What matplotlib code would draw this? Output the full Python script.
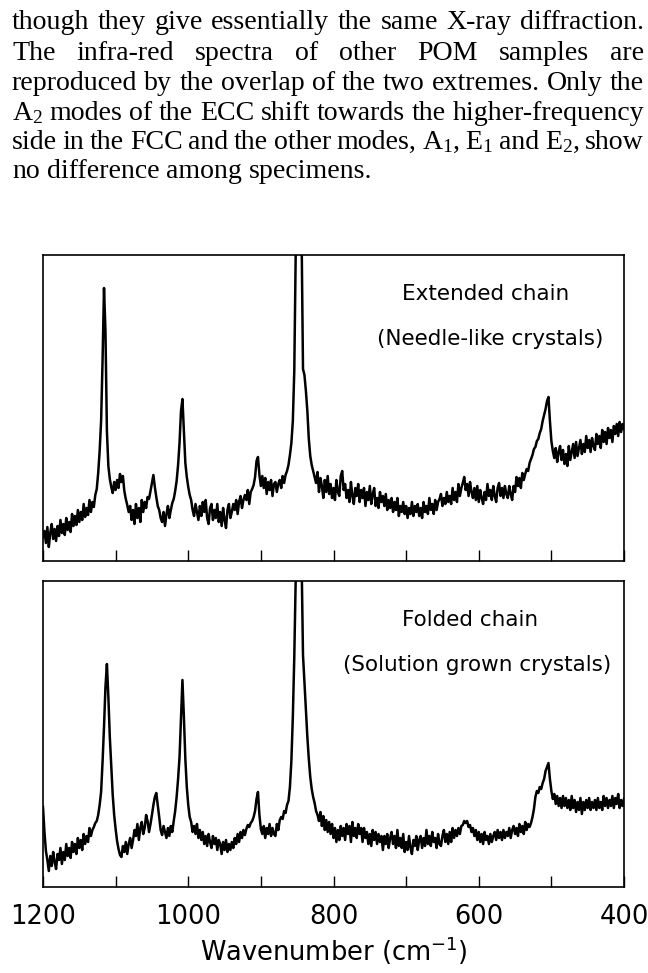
import numpy as np
import matplotlib
matplotlib.use("Agg")
import matplotlib.pyplot as plt

plt.rcParams["mathtext.default"] = "regular"

# ============================================
# Dados (intensidade em unidades arbitrárias)
# ============================================

# eixo de número de onda, 1200 -> 400 cm-1 a cada 2 cm-1 (401 pontos)
wavenumber = np.arange(1200, 399, -2)

# Cadeia estendida (cristais em agulha) - 20 valores por linha = 40 cm-1
extended_chain = [
    24, 30, 18, 34, 14, 28, 37, 22, 32, 20, 35, 25, 41, 28, 37, 26, 43, 31, 39, 29,            # 1200-1162
    47, 35, 45, 36, 51, 39, 49, 41, 57, 44, 53, 46, 61, 49, 59, 54, 66, 72, 88, 110,           # 1160-1122
    140, 200, 273, 230, 130, 95, 82, 74, 68, 79, 71, 81, 73, 87, 79, 85, 70, 62, 56, 49,       # 1120-1082
    55, 41, 51, 37, 57, 43, 53, 39, 61, 49, 59, 53, 64, 62, 70, 78, 86, 74, 64, 55,            # 1080-1042
    51, 43, 39, 49, 35, 47, 55, 43, 51, 58, 62, 70, 80, 96, 118, 150, 162, 130, 98, 84,        # 1040-1002
    74, 66, 61, 51, 45, 57, 49, 41, 55, 45, 59, 49, 61, 43, 37, 53, 57, 41, 51, 43,            # 1000-962
    57, 39, 49, 35, 53, 41, 33, 51, 57, 43, 49, 57, 51, 61, 47, 59, 65, 53, 61, 66,            # 960-922
    61, 71, 57, 69, 72, 76, 84, 100, 104, 86, 75, 85, 73, 83, 67, 79, 71, 81, 65, 77,          # 920-882
    79, 69, 77, 81, 73, 85, 78, 86, 90, 96, 106, 118, 140, 190, 310, 2000, 2000, 2000, 330, 192,  # 880-842
    186, 170, 150, 122, 105, 96, 90, 84, 78, 89, 69, 83, 75, 63, 81, 69, 85, 67, 77, 63,       # 840-802
    73, 61, 81, 69, 65, 85, 90, 71, 77, 63, 71, 59, 79, 65, 57, 73, 65, 77, 59, 71,            # 800-762
    63, 73, 55, 69, 61, 75, 57, 67, 73, 55, 63, 53, 69, 59, 65, 55, 67, 51, 61, 53,            # 760-722
    63, 49, 59, 51, 63, 45, 55, 49, 59, 47, 55, 43, 53, 47, 59, 45, 55, 49, 57, 45,            # 720-682
    53, 43, 59, 49, 55, 47, 63, 51, 57, 47, 61, 51, 59, 62, 67, 55, 63, 57, 69, 59,            # 680-642
    65, 57, 73, 61, 69, 59, 77, 65, 73, 78, 84, 71, 77, 65, 79, 69, 63, 73, 61, 75,            # 640-602
    59, 71, 63, 57, 69, 61, 77, 65, 71, 61, 75, 65, 59, 73, 78, 65, 73, 63, 75, 67,            # 600-562
    63, 75, 67, 61, 75, 69, 84, 75, 83, 73, 88, 81, 87, 92, 90, 98, 102, 106, 112, 114,        # 560-522
    120, 122, 128, 132, 140, 146, 152, 160, 164, 140, 120, 110, 103, 113, 99, 109, 115, 101, 111, 97,  # 520-482
    107, 95, 115, 101, 109, 117, 103, 119, 105, 113, 121, 107, 117, 109, 125, 113, 121, 109, 123, 115,  # 480-442
    111, 127, 117, 125, 113, 131, 119, 129, 117, 133, 123, 131, 119, 135, 127, 137, 125, 139, 129, 137, 132,  # 440-400
]

# Cadeia dobrada (cristais crescidos em solução)
folded_chain = [
    80, 55, 36, 27, 16, 31, 21, 35, 25, 18, 33, 27, 39, 23, 35, 27, 43, 31, 39, 29,            # 1200-1162
    45, 35, 43, 33, 49, 39, 47, 37, 53, 43, 51, 45, 59, 51, 57, 60, 64, 66, 72, 82,            # 1160-1122
    95, 125, 160, 200, 223, 190, 150, 120, 92, 72, 58, 46, 38, 32, 30, 41, 35, 45, 33, 43,     # 1120-1082
    49, 39, 47, 57, 51, 63, 47, 59, 65, 53, 59, 72, 66, 55, 63, 72, 82, 90, 94, 82,            # 1080-1042
    70, 57, 52, 61, 55, 49, 59, 51, 61, 55, 66, 76, 90, 108, 130, 170, 207, 170, 128, 100,     # 1040-1002
    82, 70, 65, 55, 61, 53, 63, 49, 57, 47, 55, 43, 51, 41, 53, 45, 39, 51, 43, 49,            # 1000-962
    37, 47, 43, 33, 45, 37, 47, 35, 43, 37, 45, 39, 49, 43, 53, 45, 55, 49, 57, 52,            # 960-922
    58, 62, 60, 64, 66, 70, 76, 88, 95, 72, 58, 53, 61, 49, 59, 53, 63, 51, 59, 53,            # 920-882
    51, 63, 57, 67, 70, 68, 76, 74, 82, 86, 100, 126, 170, 230, 310, 2000, 2000, 2000, 330, 232,  # 880-842
    205, 180, 150, 128, 110, 98, 90, 84, 76, 72, 66, 75, 61, 71, 57, 67, 55, 65, 53, 63,       # 840-802
    49, 59, 45, 57, 47, 61, 51, 59, 47, 63, 53, 61, 45, 65, 51, 59, 49, 63, 53, 59,            # 800-762
    45, 59, 49, 55, 43, 53, 41, 57, 47, 55, 43, 53, 45, 51, 37, 51, 43, 53, 39, 49,            # 760-722
    55, 43, 51, 39, 57, 41, 49, 39, 53, 35, 45, 37, 51, 39, 33, 47, 41, 51, 37, 47,            # 720-682
    51, 39, 49, 41, 57, 43, 51, 41, 55, 45, 49, 39, 53, 43, 41, 51, 57, 45, 53, 43,            # 680-642
    55, 45, 59, 49, 57, 51, 59, 53, 61, 62, 66, 64, 66, 60, 62, 55, 59, 51, 57, 47,            # 640-602
    55, 45, 53, 43, 55, 47, 51, 43, 53, 45, 51, 55, 47, 57, 49, 55, 47, 57, 49, 55,            # 600-562
    51, 59, 49, 57, 61, 53, 59, 51, 63, 55, 61, 53, 65, 57, 63, 60, 64, 70, 78, 90,            # 560-522
    96, 94, 100, 98, 104, 108, 116, 120, 124, 108, 96, 88, 93, 83, 91, 81, 89, 79, 91, 81,     # 520-482
    89, 79, 87, 77, 91, 79, 87, 75, 85, 77, 89, 73, 85, 77, 87, 79, 89, 77, 85, 79,            # 480-442
    87, 77, 89, 79, 85, 77, 91, 81, 89, 79, 87, 81, 91, 79, 89, 83, 93, 79, 87, 81, 88,        # 440-400
]

tick_values = [1200, 1100, 1000, 900, 800, 700, 600, 500, 400]
tick_labels = ["1200", "", "1000", "", "800", "", "600", "", "400"]

panel_titles = [
    ("Extended chain", "(Needle-like crystals)"),
    ("Folded chain", "(Solution grown crystals)"),
]

paragraph = [
    "though they give essentially the same X-ray diffraction.",
    "The infra-red spectra of other POM samples are",
    "reproduced by the overlap of the two extremes. Only the",
    "A$_2$ modes of the ECC shift towards the higher-frequency",
    "side in the FCC and the other modes, A$_1$, E$_1$ and E$_2$, show",
    "no difference among specimens.",
]

# ============================================
# Figura
# ============================================

W, H = 648, 973
fig = plt.figure(figsize=(W / 100, H / 100), dpi=100)


def caixa(x0, y0, x1, y1):
    # retângulo em pixels (origem no canto superior) -> fração da figura
    return [x0 / W, 1 - y1 / H, (x1 - x0) / W, (y1 - y0) / H]


ax_top = fig.add_axes(caixa(43, 255, 624, 561))
ax_bot = fig.add_axes(caixa(43, 581, 624, 887))

for ax, dados, (t1, t2), x_t2 in [
    (ax_top, extended_chain, panel_titles[0], 377),
    (ax_bot, folded_chain, panel_titles[1], 343),
]:
    ax.plot(wavenumber, dados, color="black", lw=1.8)
    ax.set_xlim(1200, 400)
    ax.set_ylim(0, 306)
    ax.set_yticks([])
    ax.set_xticks(tick_values, labels=tick_labels)
    ax.tick_params(axis="x", direction="in", length=8, width=1.0,
                   labelsize=18.5, pad=12)
    for s in ax.spines.values():
        s.set_linewidth(1.2)

    ax.text((402 - 43) / 581, 1 - 39 / 306, t1, transform=ax.transAxes,
            fontsize=15.5, va="center", ha="left")
    ax.text((x_t2 - 43) / 581, 1 - 84 / 306, t2, transform=ax.transAxes,
            fontsize=15.5, va="center", ha="left")

ax_top.tick_params(axis="x", labelbottom=False)

fig.text(333.5 / W, 1 - 951 / H, "Wavenumber (cm$^{-1}$)",
         fontsize=18.5, ha="center", va="center")

# ============================================
# Texto do artigo (justificado)
# ============================================

renderer = fig.canvas.get_renderer()
x_esq, x_dir = 12, 644
baselines = [29, 60, 90, 120, 149, 178]

# tamanho da fonte ajustado para a última linha terminar em x ~ 372
teste = fig.text(0, 0, paragraph[-1], fontsize=20, family="Liberation Serif")
fs = 20 * (372 - x_esq) / teste.get_window_extent(renderer).width
teste.remove()

for i, (linha, yb) in enumerate(zip(paragraph, baselines)):
    palavras = linha.split(" ")
    objs = [fig.text(0, 1 - yb / H, p, fontsize=fs, family="Liberation Serif",
                     va="baseline", ha="left") for p in palavras]
    larguras = [o.get_window_extent(renderer).width for o in objs]
    espaco = x_dir - x_esq
    n = len(palavras) - 1
    if sum(larguras) + 3 * n > espaco:
        fator = (espaco - 3 * n) / sum(larguras)
        for o in objs:
            o.set_fontsize(fs * fator)
        larguras = [o.get_window_extent(renderer).width for o in objs]
    if i == len(paragraph) - 1:
        gap = fs * 100 / 72 * 0.25
    else:
        gap = (espaco - sum(larguras)) / n
    x = x_esq
    for o, w in zip(objs, larguras):
        o.set_x(x / W)
        x += w + gap

fig.savefig("out.png", dpi=100)
